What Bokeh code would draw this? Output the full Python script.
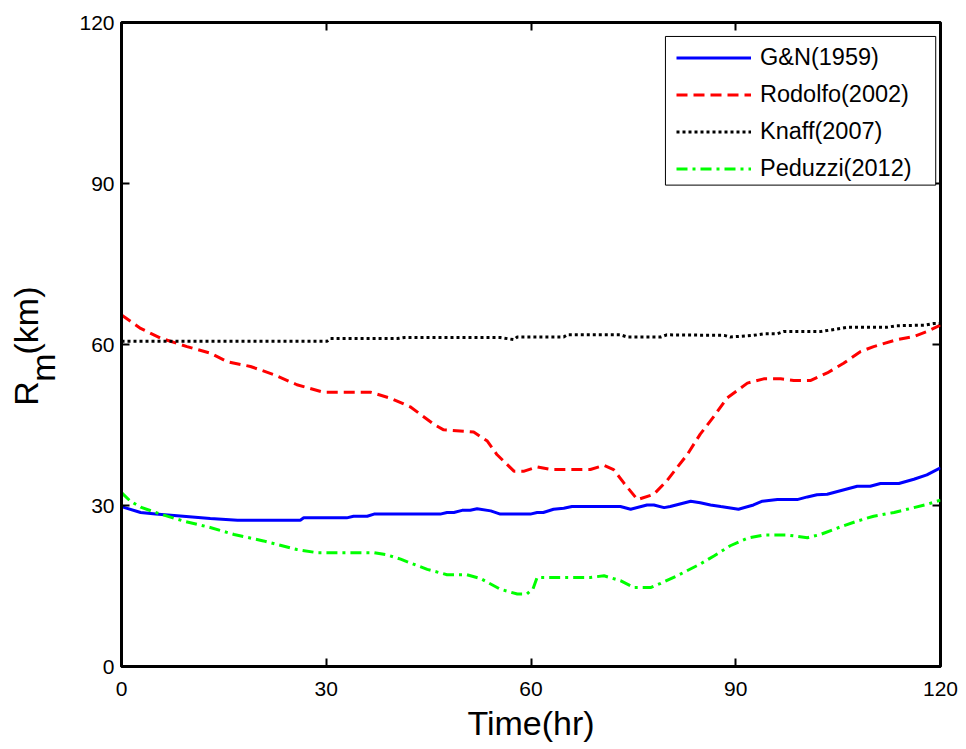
import math
from bokeh.plotting import figure
from bokeh.layouts import row
from bokeh.models import (Range1d, LinearAxis, Legend, LegendItem, FixedTicker, BoxAnnotation,
                          CustomLabelingPolicy)
from bokeh.core.properties import value
from bokeh.embed import file_html
from bokeh.resources import INLINE

# Radius of maximum wind R_m (km) versus forecast time (hr) for four parametric models
gn_t = [0, 2.8, 5, 8.6, 13, 17, 26.2, 26.7, 33, 34, 36, 37, 46.7, 47.7, 48.7, 49.9, 51.1, 52.1,
        54.1, 55.5, 59.9, 60.9, 61.8, 63.3, 64.8, 66.0, 73.1, 74.6, 77.0, 78, 79.5, 80.4, 83.4,
        84.8, 86.3, 87.8, 90.4, 92.6, 93.9, 96.1, 99, 100.5, 101.9, 103.4, 107.8, 109.7, 111.2,
        113.9, 116.1, 118, 120]
gn_r = [29.8, 28.7, 28.4, 28.05, 27.6, 27.25, 27.25, 27.7, 27.7, 28.0, 28.0, 28.4, 28.4, 28.7,
        28.7, 29.1, 29.1, 29.4, 29.0, 28.4, 28.4, 28.7, 28.7, 29.3, 29.5, 29.8, 29.8, 29.3, 30.1,
        30.1, 29.6, 29.8, 30.8, 30.5, 30.1, 29.8, 29.3, 30.1, 30.8, 31.1, 31.1, 31.6, 32.0, 32.1,
        33.6, 33.6, 34.1, 34.1, 34.9, 35.7, 37.0]

rod_t = [0, 2.8, 5.7, 9.6, 13, 15.5, 18.9, 22.3, 25.7, 29.6, 36.5, 39.4, 42.3, 45.8, 47.2, 51.6,
         53.6, 55.0, 57.5, 59, 60.9, 62.9, 68.7, 70.7, 72.1, 73.6, 75.6, 78.0, 79.9, 82.9, 84.8,
         86.8, 88.7, 91.7, 94.1, 96.6, 98.5, 101, 103.4, 105.8, 108.3, 110.2, 113.6, 116.1, 118, 120]
rod_r = [65.5, 63.0, 61.2, 59.6, 58.4, 56.8, 55.9, 54.4, 52.5, 51.1, 51.1, 50.0, 48.4, 45.1, 44.1,
         43.7, 42.0, 39.5, 36.4, 36.4, 37.2, 36.7, 36.7, 37.5, 36.7, 34.2, 31.1, 32.1, 34.6, 39.5,
         43.3, 46.6, 50.0, 52.8, 53.6, 53.6, 53.3, 53.3, 54.7, 56.5, 58.7, 59.6, 60.9, 61.5, 62.4, 63.6]

kn_t = [0, 30.1, 30.6, 40.4, 41.5, 55.5, 57.5, 58, 64.8, 65.3, 73.1, 74.1, 79, 79.9, 88.3, 89.2,
        92.6, 94.1, 96.1, 97.0, 102.4, 103.9, 106.3, 112.1, 113.6, 117.6, 119, 120]
kn_r = [60.6, 60.6, 61.1, 61.1, 61.3, 61.3, 60.9, 61.4, 61.4, 61.8, 61.8, 61.4, 61.4, 61.8, 61.7,
        61.4, 61.7, 62.0, 62.0, 62.4, 62.4, 62.7, 63.2, 63.2, 63.5, 63.6, 63.9, 63.9]

ped_t = [0, 1.3, 2.8, 5.7, 9.1, 13, 16.5, 20.8, 25.7, 28.7, 37, 38.9, 40.9, 42.3, 44.8, 47.7, 50.6,
         52.6, 55.5, 58.0, 59.4, 60.3, 60.9, 68.7, 70.7, 73.1, 75.1, 77.5, 79, 81.4, 84.8, 86.8,
         89.2, 91.7, 94.1, 97.5, 100.5, 102.4, 105.3, 107.8, 110.2, 113.2, 116.1, 118, 120]
ped_r = [32.4, 30.8, 29.7, 28.4, 27.1, 25.9, 24.6, 23.4, 21.8, 21.2, 21.2, 20.8, 20.0, 19.3, 18.1,
         17.1, 17.1, 16.4, 14.4, 13.5, 13.5, 14.5, 16.6, 16.6, 16.9, 16.0, 14.7, 14.7, 15.5, 16.9,
         19.1, 20.6, 22.5, 23.9, 24.5, 24.5, 24.0, 24.6, 26.0, 27.1, 28.0, 28.7, 29.6, 30.2, 31.0]

series_names = ["G&N(1959)", "Rodolfo(2002)", "Knaff(2007)", "Peduzzi(2012)"]
ticks = [0, 30, 60, 90, 120]

FONT = "Liberation Sans"
LABEL_W = 70  # width of the strip holding the rotated y-axis title
PAGE_H = 749
BORDER_TOP, BORDER_BOTTOM = 22, 83

p = figure(width=966 - LABEL_W, height=PAGE_H, output_backend="svg", toolbar_location=None,
           x_range=Range1d(0, 120), y_range=Range1d(0, 120),
           min_border_left=121 - LABEL_W, min_border_right=26, min_border_top=BORDER_TOP,
           min_border_bottom=BORDER_BOTTOM)
p.background_fill_color = "white"
p.border_fill_color = "white"
p.grid.visible = False
p.outline_line_color = "black"
p.outline_line_width = 3

for ax in (p.xaxis[0], p.yaxis[0]):
    ax.ticker = FixedTicker(ticks=ticks)
    ax.major_tick_in = 8
    ax.major_tick_out = 0
    ax.minor_tick_line_color = None
    ax.major_tick_line_width = 2
    ax.axis_line_width = 3
    ax.major_label_text_font = FONT
    ax.major_label_text_font_size = "21px"
    ax.major_label_text_color = "black"

p.xaxis.major_label_standoff = 15
p.yaxis.major_label_standoff = 7
p.xaxis.axis_label = "Time(hr)"
p.xaxis.axis_label_text_font = FONT
p.xaxis.axis_label_text_font_size = "34px"
p.xaxis.axis_label_text_font_style = "normal"
p.xaxis.axis_label_text_color = "black"
p.xaxis.axis_label_standoff = 5

# mirrored tick marks on the top and right edges, without labels
no_labels = CustomLabelingPolicy(code="return []")
for side in ("above", "right"):
    mirror = LinearAxis(ticker=FixedTicker(ticks=ticks), major_tick_in=8, major_tick_out=0,
                        major_tick_line_width=2, minor_tick_line_color=None,
                        axis_line_color=None, major_label_policy=no_labels,
                        major_label_text_font_size="1px")
    p.add_layout(mirror, side)

r_gn = p.line(gn_t, gn_r, line_color="#0000ff", line_width=3)
r_rod = p.line(rod_t, rod_r, line_color="#ff0000", line_width=3, line_dash="11 6")
r_kn = p.line(kn_t, kn_r, line_color="black", line_width=3, line_dash="3 3")
r_ped = p.line(ped_t, ped_r, line_color="#00ff00", line_width=3, line_dash="11 5 3 5")

# legend frame (wider horizontal margins than the legend's own padding allows)
p.add_layout(BoxAnnotation(left=79.7, right=119.3, top=117.4, bottom=89.7,
                           fill_color="white", fill_alpha=1.0,
                           line_color="black", line_alpha=1.0, line_width=1))

legend = Legend(items=[LegendItem(label=n, renderers=[r]) for n, r in
                       zip(series_names, [r_gn, r_rod, r_kn, r_ped])],
                location=(555, 483))
legend.label_text_font = FONT
legend.label_text_font_size = "23.5px"
legend.label_text_color = "black"
legend.glyph_width = 75
legend.glyph_height = 29
legend.label_height = 29
legend.label_standoff = 9
legend.spacing = 8
legend.padding = 4
legend.margin = 0
legend.border_line_color = None
legend.background_fill_alpha = 0.0
p.add_layout(legend, "center")

# strip on the left carrying the y-axis title R_m(km); its frame is aligned with the
# main frame, so the y range is chosen to make one data unit equal one pixel
# (x from the page's left edge, y measured up from the page's bottom edge)
yl = figure(width=LABEL_W, height=PAGE_H, output_backend="svg", toolbar_location=None,
            x_range=Range1d(0, LABEL_W),
            y_range=Range1d(BORDER_BOTTOM, PAGE_H - BORDER_TOP),
            x_axis_type=None, y_axis_type=None,
            min_border_left=0, min_border_right=0,
            min_border_top=BORDER_TOP, min_border_bottom=BORDER_BOTTOM)
yl.outline_line_color = None
yl.background_fill_color = "white"
yl.border_fill_color = "white"
yl.text(x=[25, 25], y=[PAGE_H - 393, PAGE_H - 320], text=["R", "(km)"], angle=math.pi / 2,
        text_align="center", text_baseline="middle", text_color="black",
        text_font=value(FONT), text_font_size="34px")
yl.text(x=[42], y=[PAGE_H - 367], text=["m"], angle=math.pi / 2,
        text_align="center", text_baseline="middle", text_color="black",
        text_font=value(FONT), text_font_size="34px")

layout = row(yl, p, spacing=0)
open("out.html", "w").write(file_html(layout, INLINE))
